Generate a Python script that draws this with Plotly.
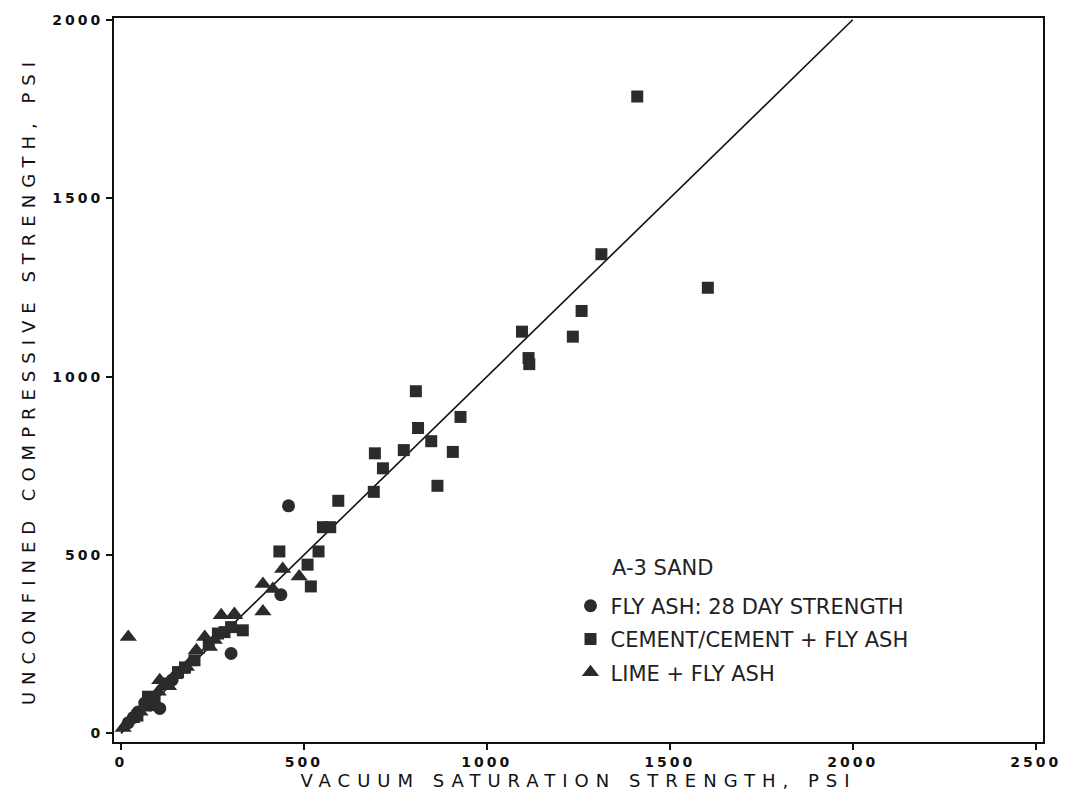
import plotly.graph_objects as go

# ---- data ----
fly_ash_x = [458, 437, 301, 106, 20, 47, 65, 34, 82, 140]
fly_ash_y = [638, 389, 224, 70, 30, 60, 85, 45, 80, 150]

cement_x = [1411, 1313, 1604, 1259, 1235, 1096, 1114, 1116,
            806, 928, 812, 848, 907, 694, 773, 716, 865, 691,
            594, 552, 572, 433, 540, 510, 519, 283, 301, 333,
            120, 156, 201, 74, 45, 92, 175, 240, 265]
cement_y = [1785, 1343, 1249, 1184, 1112, 1126, 1052, 1035,
            959, 887, 856, 819, 789, 785, 794, 743, 694, 677,
            652, 578, 578, 510, 510, 473, 412, 284, 298, 289,
            140, 172, 205, 103, 50, 95, 185, 250, 280]

lime_x = [20, 274, 310, 229, 242, 206, 179, 147, 106, 102, 442, 487, 388, 415, 388, 310, 6, 52,
          30, 60, 86, 130, 165, 190, 255]
lime_y = [270, 331, 331, 270, 242, 233, 186, 163, 149, 117, 461, 440, 419, 405, 342, 335, 15, 61,
          40, 72, 96, 132, 178, 200, 262]

fit_x = [0, 2000]
fit_y = [0, 2000]

x_ticks = [0, 500, 1000, 1500, 2000, 2500]
x_tick_labels = ["0", "500", "1000", "1500", "2000", "2500"]
y_ticks = [0, 500, 1000, 1500, 2000]
y_tick_labels = ["0", "500", "1000", "1500", "2000"]

MARK = "#2b2b2b"
SP = '<span style="letter-spacing:3px">{}</span>'
TSP = '<span style="letter-spacing:7px">{}</span>'

fig = go.Figure()
fig.add_trace(go.Scatter(x=fit_x, y=fit_y, mode="lines",
                         line=dict(color="#111111", width=1.6),
                         showlegend=False, hoverinfo="skip"))
fig.add_trace(go.Scatter(x=fly_ash_x, y=fly_ash_y, mode="markers",
                         name="FLY ASH: 28 DAY STRENGTH", legendgroup="a",
                         marker=dict(symbol="circle", size=13, color=MARK)))
fig.add_trace(go.Scatter(x=cement_x, y=cement_y, mode="markers",
                         name="CEMENT/CEMENT + FLY ASH", legendgroup="b",
                         marker=dict(symbol="square", size=12, color=MARK)))
fig.add_trace(go.Scatter(x=lime_x, y=lime_y, mode="markers",
                         name="LIME + FLY ASH", legendgroup="c",
                         marker=dict(symbol="triangle-up", size=15, color=MARK)))

axis_common = dict(showline=True, linecolor="#111111", linewidth=2, mirror=True,
                   ticks="outside", ticklen=6, tickwidth=1.5, tickcolor="#111111",
                   showgrid=False, zeroline=False,
                   tickfont=dict(family="DejaVu Sans", size=14, color="#111111", weight="bold"))

title_font = dict(family="DejaVu Sans", size=18, color="#111111")

fig.update_layout(
    width=1073, height=804, autosize=False,
    margin=dict(l=114, r=27, t=15, b=62),
    paper_bgcolor="white", plot_bgcolor="white",
    xaxis=dict(range=[-19, 2520], tickvals=x_ticks,
               ticktext=[SP.format(t) for t in x_tick_labels],
               title=dict(text=TSP.format("VACUUM SATURATION STRENGTH, PSI"),
                          font=title_font, standoff=6),
               **axis_common),
    yaxis=dict(range=[-24, 2005], tickvals=y_ticks,
               ticktext=[SP.format(t) for t in y_tick_labels],
               title=dict(text=TSP.format("UNCONFINED COMPRESSIVE STRENGTH, PSI"),
                          font=title_font, standoff=12),
               **axis_common),
    legend=dict(x=0.4914, y=0.216, xanchor="left", yanchor="top",
                font=dict(family="DejaVu Sans", size=21, color="#222222"),
                tracegroupgap=3, bgcolor="rgba(0,0,0,0)", borderwidth=0),
    annotations=[dict(text="A-3 SAND", xref="paper", yref="paper",
                      x=0.5343, y=0.2407, xanchor="left", yanchor="middle",
                      showarrow=False,
                      font=dict(family="DejaVu Sans", size=21, color="#222222"))],
)

fig.write_html("out.html")
